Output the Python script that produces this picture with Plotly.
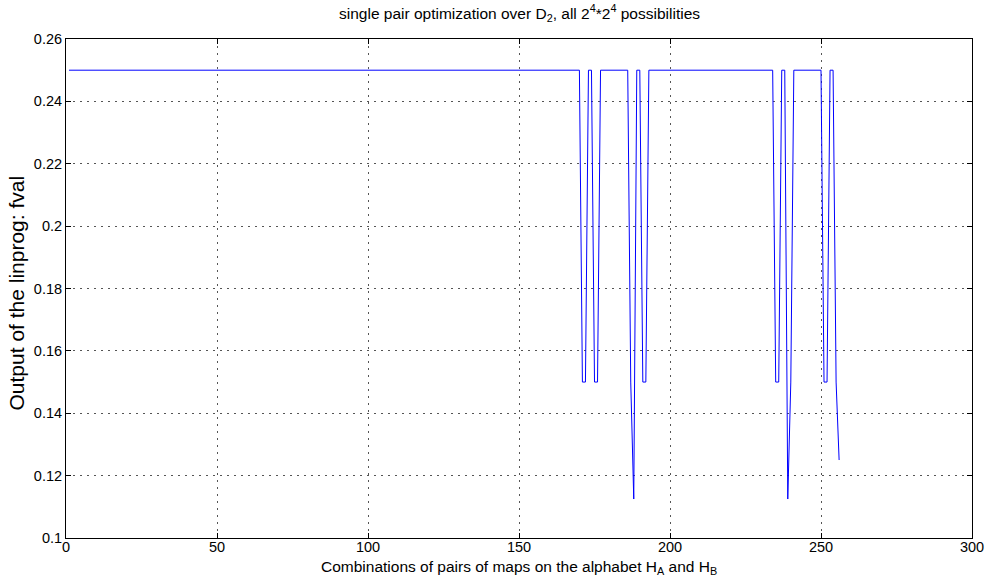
import plotly.graph_objects as go

# x positions: combination index 1..256
combo_index = list(range(1, 257))

# fval, written as runs of equal values
fval = (
    [0.25] * 170
    + [0.15, 0.15]            # 171-172
    + [0.25, 0.25]            # 173-174
    + [0.15, 0.15]            # 175-176
    + [0.25] * 9              # 177-185
    + [0.25]                  # 186
    + [0.15, 0.1125]          # 187-188
    + [0.25, 0.25]            # 189-190
    + [0.15, 0.15]            # 191-192
    + [0.25] * 42             # 193-234
    + [0.15, 0.15]            # 235-236
    + [0.25, 0.25]            # 237-238
    + [0.1125, 0.15]          # 239-240
    + [0.25] * 10             # 241-250
    + [0.15, 0.15]            # 251-252
    + [0.25, 0.25]            # 253-254
    + [0.15, 0.125]           # 255-256
)

x_ticks = [0, 50, 100, 150, 200, 250, 300]
y_ticks = [0.1, 0.12, 0.14, 0.16, 0.18, 0.2, 0.22, 0.24, 0.26]
y_tick_labels = ["0.1", "0.12", "0.14", "0.16", "0.18", "0.2", "0.22", "0.24", "0.26"]

title_text = "single pair optimization over D<sub>2</sub>, all 2<sup>4</sup>*2<sup>4</sup> possibilities"
x_label = "Combinations of pairs of maps on the alphabet H<sub>A</sub> and H<sub>B</sub>"
y_label = "Output of the linprog: fval"

FONT = "Liberation Sans, Arial, sans-serif"

W, H = 988, 588
L, R, T, B = 66, 16, 39, 50
PW, PH = W - L - R, H - T - B

fig = go.Figure()
fig.add_trace(go.Scatter(
    x=combo_index, y=fval, mode="lines",
    line=dict(color="#0000ff", width=1),
    showlegend=False,
))

axis_common = dict(
    showline=True, linecolor="black", linewidth=1, mirror="ticks",
    ticks="inside", ticklen=5, tickcolor="black",
    showgrid=True, gridcolor="#555555", griddash="2px,5px", gridwidth=1,
    zeroline=False, automargin=False,
    tickfont=dict(family=FONT, size=14.5, color="black"),
)

fig.update_layout(
    width=W, height=H,
    margin=dict(l=L, r=R, t=T, b=B),
    paper_bgcolor="white", plot_bgcolor="white",
    font=dict(family=FONT, size=14.5, color="black"),
    xaxis=dict(range=[0, 300], tickvals=x_ticks, ticklabelstandoff=-4, **axis_common),
    yaxis=dict(range=[0.1, 0.26], tickvals=y_ticks, ticktext=y_tick_labels, **axis_common),
    annotations=[
        dict(text=title_text, xref="paper", yref="paper", x=0.5, y=1 + (T - 13) / PH,
             xanchor="center", yanchor="middle", showarrow=False,
             font=dict(family=FONT, size=15.5, color="black")),
        dict(text=x_label, xref="paper", yref="paper", x=0.5, y=-(567 - (T + PH)) / PH,
             xanchor="center", yanchor="middle", showarrow=False,
             font=dict(family=FONT, size=15.5, color="black")),
        dict(text=y_label, xref="paper", yref="paper", x=-(L - 16) / PW, y=0.49,
             xanchor="center", yanchor="middle", textangle=-90, showarrow=False,
             font=dict(family=FONT, size=21, color="black")),
    ],
)

fig.write_html("out.html", config={"displayModeBar": False},
               post_script="document.body.style.margin='0';")
